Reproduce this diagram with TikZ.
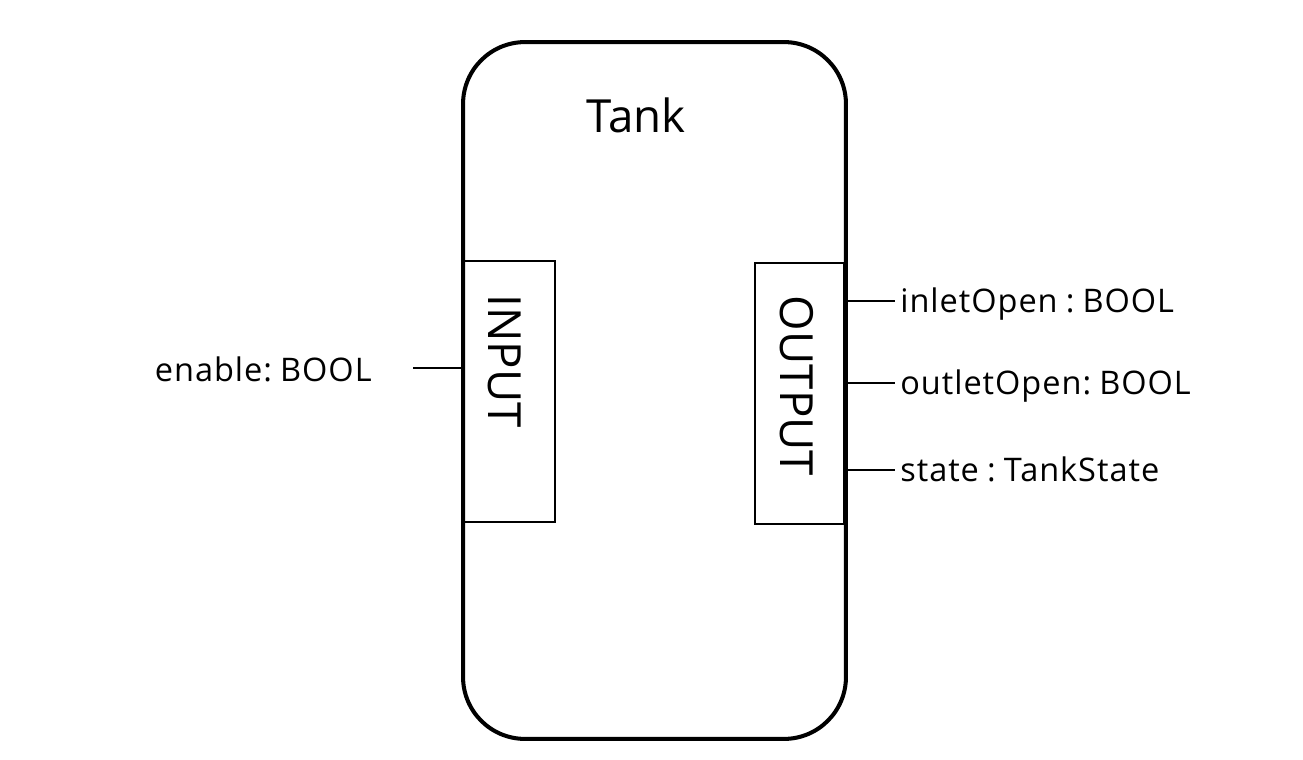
\documentclass[tikz,border=0pt]{standalone}
\usepackage{fontspec}
\setmainfont{Open Sans}
\newfontfamily\lblfont[LetterSpace=3]{Open Sans}
\newcommand\gap{\hspace{0.25em}}
\begin{document}
\begin{tikzpicture}[x=0.02cm,y=-0.02cm,
    lbl/.style={font=\lblfont\fontsize{18.5}{21}\selectfont,inner sep=0pt,text height=13pt,text depth=0pt},
    big/.style={font=\fontsize{26}{30}\selectfont,inner sep=0pt},
    port/.style={draw,line width=1.4pt,inner sep=0pt,outer sep=0pt,minimum height=5.22cm},
    wire/.style={line width=1.1pt}]
  \useasboundingbox (0,0) rectangle (1303,760);
  % block
  \node[draw,line width=2.3pt,rounded corners=1.24cm,inner sep=0pt,outer sep=0pt,
        minimum width=7.66cm,minimum height=13.94cm](tank)at(654.5,390.5){};
  \node[big](title)at(636,115){Tank};
  % ports
  \node[port,minimum width=1.82cm](in)at(509.5,391.5){};
  \node[port,minimum width=1.78cm](out)at(799.5,393.5){};
  \node[big,rotate=-90](intxt)at(505,361){INPUT};
  \node[big,rotate=-90](outtxt)at(797,386){OUTPUT};
  % variables
  \node[lbl,anchor=east](enable)at(372,370){enable:\gap BOOL};
  \coordinate(e)at(413,368);
  \draw[wire](e)--(e-|tank.west);
  \foreach \y/\n/\t in {301/inlet/inletOpen\gap:\gap BOOL, 383/outlet/outletOpen:\gap BOOL, 470/state/state\gap:\gap TankState}{
    \node[lbl,anchor=west](\n)at(900,\y){\t};
    \draw[wire](tank.east|-\n.west)--++(49,0);
  }
\end{tikzpicture}
\end{document}
